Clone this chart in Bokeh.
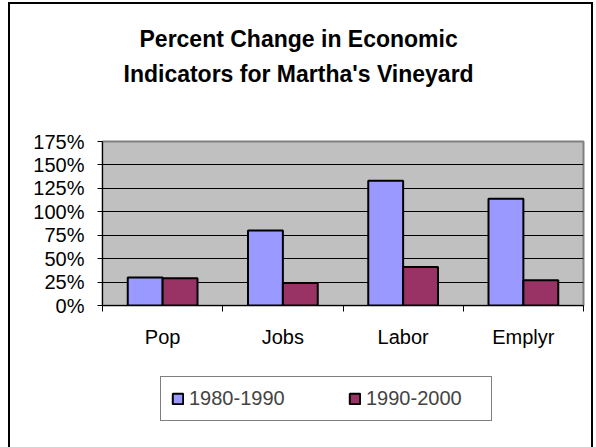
from bokeh.plotting import figure
from bokeh.layouts import column
from bokeh.models import (ColumnDataSource, FixedTicker, PrintfTickFormatter, Range1d,
                          Legend, LegendItem, Title)
from bokeh.transform import dodge
from bokeh.embed import file_html
from bokeh.resources import INLINE

# ---- data ----
categories = ["Pop", "Jobs", "Labor", "Emplyr"]
series_names = ["1980-1990", "1990-2000"]
change_1980_1990 = [30, 80, 133, 114]
change_1990_2000 = [29, 24, 41, 27]
y_ticks = [0, 25, 50, 75, 100, 125, 150, 175]
title_lines = ["Percent Change in Economic", "Indicators for Martha's Vineyard"]
series_colors = ["#9999FF", "#993366"]

FONT = "Liberation Sans"

pos = [i + 0.5 for i in range(len(categories))]
src = ColumnDataSource(dict(pos=pos, a=change_1980_1990, b=change_1990_2000))

p = figure(width=596, height=360, output_backend="svg", toolbar_location=None,
           x_range=Range1d(0, len(categories)), y_range=Range1d(y_ticks[0], y_ticks[-1]),
           min_border_left=102, min_border_right=13, min_border_top=141, min_border_bottom=55,
           title=None)
p.border_fill_color = None
p.background_fill_color = "#C0C0C0"
p.outline_line_color = "#808080"
p.outline_line_width = 2

r1 = p.vbar(x=dodge("pos", -0.145), top="a", width=0.29, source=src,
            fill_color=series_colors[0], line_color="black", line_width=2)
r2 = p.vbar(x=dodge("pos", 0.145), top="b", width=0.29, source=src,
            fill_color=series_colors[1], line_color="black", line_width=2)

# titles: spacer closest to the plot, then second line, then first line
title_style = dict(text_font=FONT, text_font_size="23px", text_font_style="bold",
                   text_color="black", align="left")
spacer = Title(text=" ", standoff=27, **title_style)
t2 = Title(text=title_lines[1], offset=21, standoff=0, **title_style)
t1 = Title(text=title_lines[0], offset=37, standoff=13, **title_style)
p.add_layout(spacer, "above")
p.add_layout(t2, "above")
p.add_layout(t1, "above")

# y axis
p.yaxis.ticker = FixedTicker(ticks=y_ticks)
p.yaxis.formatter = PrintfTickFormatter(format="%d%%")
p.yaxis.major_label_text_font = FONT
p.yaxis.major_label_text_font_size = "20px"
p.yaxis.major_label_text_color = "black"
p.yaxis.major_label_standoff = 13
p.yaxis.major_tick_in = 0
p.yaxis.major_tick_out = 5
p.yaxis.major_tick_line_color = "black"
p.yaxis.minor_tick_line_color = None
p.yaxis.axis_line_color = "black"

# x axis: labels at category centres, ticks at category boundaries
p.xaxis.ticker = FixedTicker(ticks=pos, minor_ticks=list(range(len(categories) + 1)))
p.xaxis.major_label_overrides = {pos[i]: categories[i] for i in range(len(categories))}
p.xaxis.major_label_text_font = FONT
p.xaxis.major_label_text_font_size = "20px"
p.xaxis.major_label_text_color = "black"
p.xaxis.major_label_standoff = 14
p.xaxis.major_tick_line_color = None
p.xaxis.major_tick_in = 0
p.xaxis.major_tick_out = 0
p.xaxis.minor_tick_in = 0
p.xaxis.minor_tick_out = 6
p.xaxis.minor_tick_line_color = "black"
p.xaxis.axis_line_color = "black"

p.xgrid.visible = False
p.ygrid.ticker = FixedTicker(ticks=y_ticks[1:-1])
p.ygrid.grid_line_color = "black"
p.ygrid.grid_line_width = 1

# legend strip below the chart (its frame is aligned with the chart frame by the column)
lf = figure(width=596, height=87, output_backend="svg", toolbar_location=None,
            x_axis_type=None, y_axis_type=None, min_border=0,
            x_range=Range1d(1000, 1001), y_range=Range1d(1000, 1001))
lf.border_fill_color = None
lf.background_fill_color = None
lf.outline_line_color = None
lf.grid.visible = False
# legend swatch renderers: same series, hidden in this strip (only their legend swatches show)
lr1 = lf.vbar(x="pos", top="a", width=0.29, source=src, visible=False,
              fill_color=series_colors[0], line_color="black", line_width=2)
lr2 = lf.vbar(x="pos", top="b", width=0.29, source=src, visible=False,
              fill_color=series_colors[1], line_color="black", line_width=2)
legend = Legend(items=[LegendItem(label=series_names[0], renderers=[lr1]),
                       LegendItem(label=series_names[1], renderers=[lr2])],
                orientation="horizontal", location=(58, 26), click_policy="none",
                inactive_fill_alpha=0,
                label_text_font=FONT, label_text_font_size="20px", label_width=115,
                glyph_width=13, glyph_height=13, label_standoff=5, spacing=44,
                padding=10, margin=0,
                border_line_color="black", border_line_width=1,
                background_fill_color="white", background_fill_alpha=1)
lf.add_layout(legend)

layout = column(p, lf, spacing=0)
layout.styles = {"box-shadow": ("inset 8px 0 0 #fff, inset -3px 0 0 #fff, inset 0 2px 0 #fff, "
                                "inset 10px 0 0 #000, inset -5px 0 0 #000, inset 0 4px 0 #000"),
                 "background-color": "white"}

open("out.html", "w").write(file_html(layout, INLINE))
